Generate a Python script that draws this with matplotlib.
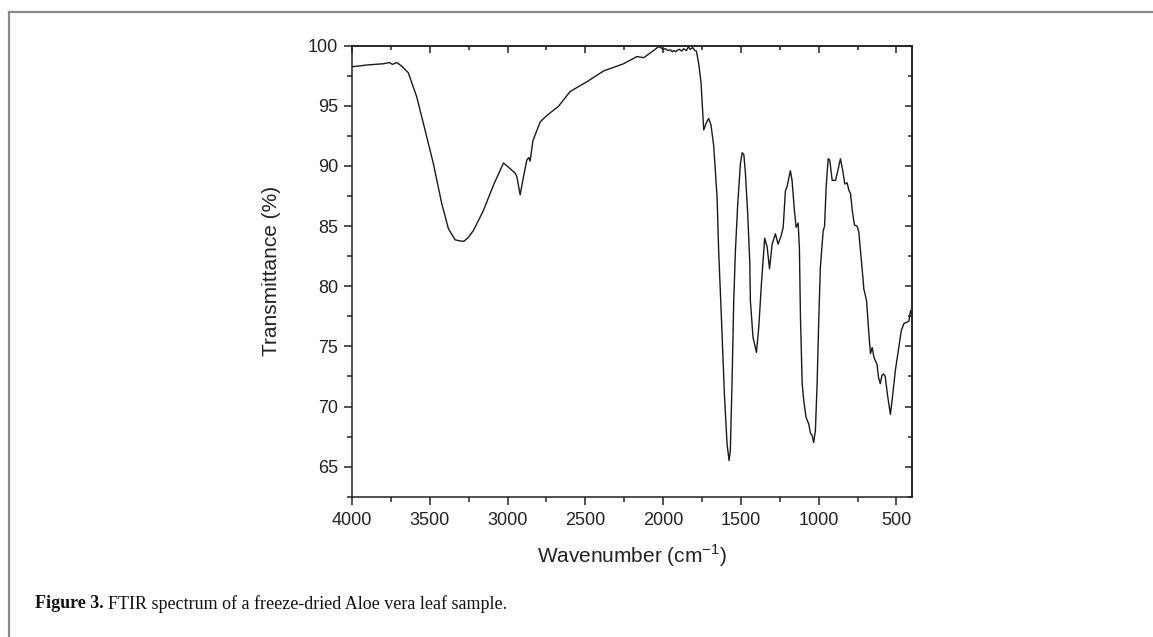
import matplotlib
matplotlib.use("Agg")
import matplotlib.pyplot as plt
from matplotlib.lines import Line2D
from matplotlib.ticker import MultipleLocator

# ---- data ----
wavenumber = [4000, 3900, 3798, 3760, 3740, 3712, 3680, 3638, 3584, 3530, 3477, 3423,
              3380, 3337, 3300, 3279, 3250, 3219, 3155, 3091, 3026, 2994, 2951, 2940,
              2919, 2902, 2876, 2863, 2855, 2837, 2790, 2747, 2672, 2597, 2490, 2383,
              2254, 2168, 2125, 2082, 2029, 2018, 1999, 1985, 1970, 1954, 1940, 1932,
              1920, 1910, 1895, 1880, 1868, 1850, 1838, 1825, 1810, 1796, 1786, 1771,
              1756, 1739, 1722, 1707, 1692, 1675, 1653, 1643,
              1627, 1606, 1589, 1576, 1568, 1557, 1546, 1535, 1520, 1503, 1492, 1481,
              1471, 1456, 1443, 1439, 1422, 1400, 1385, 1368, 1353, 1347, 1331, 1316,
              1299, 1278, 1261, 1241, 1228, 1214, 1203, 1182, 1171, 1156, 1145, 1132,
              1124, 1117, 1106, 1096, 1081, 1064, 1053, 1042, 1032, 1021, 1010, 999,
              989, 971, 962, 952, 939, 929, 913, 892, 877, 860, 845, 832, 817, 806,
              795, 784, 770, 753, 742, 727, 714, 710, 692, 677, 667, 656, 645, 625,
              615, 604, 593, 582, 572, 558, 539, 528, 507, 485, 469, 452, 435, 420,
              409, 401]
transmittance = [98.25, 98.4, 98.5, 98.6, 98.45, 98.6, 98.3, 97.75, 95.75, 92.97, 90.2, 86.87,
                 84.78, 83.86, 83.75, 83.75, 84.1, 84.64, 86.3, 88.4, 90.25, 89.9, 89.4, 89.1,
                 87.6, 88.8, 90.5, 90.7, 90.4, 92.1, 93.67, 94.2, 94.97, 96.2, 97.0, 97.9,
                 98.5, 99.1, 99.0, 99.4, 99.92, 99.86, 99.7, 99.75, 99.6, 99.65, 99.5, 99.6,
                 99.5, 99.6, 99.7, 99.55, 99.75, 99.6, 99.9, 99.7, 99.85, 99.6, 99.55, 98.5,
                 96.9, 93.0, 93.6, 93.95, 93.4, 91.7, 87.4, 82.98,
                 77.98, 71.0, 66.9, 65.5, 66.3, 71.9, 78.8, 83.0, 86.9, 90.2, 91.1, 90.95,
                 89.4, 86.0, 82.0, 78.8, 75.75, 74.5, 76.6, 80.2, 83.0, 84.0, 83.25, 81.45,
                 83.5, 84.36, 83.5, 84.2, 84.9, 87.9, 88.3, 89.6, 88.8, 86.3, 84.9, 85.25,
                 83.25, 77.4, 71.9, 70.5, 69.1, 68.55, 67.8, 67.6, 67.0, 68.0, 71.9, 77.4,
                 81.6, 84.6, 85.0, 88.25, 90.6, 90.5, 88.8, 88.8, 89.6, 90.6, 89.6, 88.5,
                 88.6, 87.98, 87.7, 86.3, 85.1, 85.0, 84.5, 82.4, 80.5, 79.8, 78.8, 76.0,
                 74.4, 74.9, 74.1, 73.5, 72.4, 71.9, 72.6, 72.7, 72.5, 71.0, 69.35, 70.5,
                 73.0, 74.9, 76.3, 76.9, 77.0, 77.1, 77.98, 77.6]

x_ticks = [4000, 3500, 3000, 2500, 2000, 1500, 1000, 500]
y_ticks = [65, 70, 75, 80, 85, 90, 95, 100]
x_label = "Wavenumber (cm$^{-1}$)"
y_label = "Transmittance (%)"
caption_bold = "Figure 3."
caption_rest = "FTIR spectrum of a freeze-dried Aloe vera leaf sample."

plt.rcParams['font.family'] = ['Liberation Sans', 'DejaVu Sans']
plt.rcParams['mathtext.fontset'] = 'custom'
plt.rcParams['mathtext.rm'] = 'Liberation Sans'

ink = '#222222'
fig = plt.figure(figsize=(11.53, 6.37), dpi=100)
ax = fig.add_axes([352 / 1153, 1 - 496.7 / 637, (912 - 352) / 1153, (496.7 - 45.7) / 637])

ax.plot(wavenumber, transmittance, color='#1a1a1a', lw=1.0)

ax.set_xlim(4000, 400)
ax.set_ylim(62.5, 100)
ax.set_xticks(x_ticks)
ax.set_yticks(y_ticks)
ax.xaxis.set_minor_locator(MultipleLocator(250))
ax.yaxis.set_minor_locator(MultipleLocator(2.5))

for s in ax.spines.values():
    s.set_linewidth(1.1)
    s.set_color(ink)
ax.tick_params(which='both', direction='out', width=1.1, color=ink,
               labelsize=13, labelcolor=ink, top=False, right=False)
ax.tick_params(which='major', length=6)
ax.tick_params(which='minor', length=3.5)
ax.tick_params(axis='x', pad=5)
ax.tick_params(axis='y', pad=4)

# top and right axes with inward ticks, no labels
secx = ax.secondary_xaxis('top')
secx.set_xticks(x_ticks)
secx.xaxis.set_minor_locator(MultipleLocator(250))
secx.tick_params(which='both', direction='in', width=1.1, color=ink, labeltop=False)
secx.tick_params(which='major', length=5)
secx.tick_params(which='minor', length=3)
secx.spines['top'].set_linewidth(1.1)
secx.spines['top'].set_color(ink)

secy = ax.secondary_yaxis('right')
secy.set_yticks(y_ticks)
secy.yaxis.set_minor_locator(MultipleLocator(2.5))
secy.tick_params(which='both', direction='in', width=1.1, color=ink, labelright=False)
secy.tick_params(which='major', length=5)
secy.tick_params(which='minor', length=3)
secy.spines['right'].set_linewidth(1.1)
secy.spines['right'].set_color(ink)

ax.set_xlabel(x_label, fontsize=15, color=ink, labelpad=10)
ax.set_ylabel(y_label, fontsize=15, color=ink, labelpad=19)

# figure frame lines (grey top and left border)
fig.add_artist(Line2D([8.7 / 1153, 1], [1 - 12 / 637, 1 - 12 / 637],
                      transform=fig.transFigure, color='#8a8a8a', lw=1.6))
fig.add_artist(Line2D([8.7 / 1153, 8.7 / 1153], [1 - 12 / 637, 0],
                      transform=fig.transFigure, color='#8a8a8a', lw=1.6))

# caption
t1 = fig.text(35 / 1153, 1 - 604 / 637, caption_bold, fontsize=13, fontweight='bold',
              family=['Liberation Serif', 'DejaVu Serif'], va='center', color='#111111')
ax.annotate(caption_rest, xy=(1, 0.5), xycoords=t1, xytext=(3, 0), textcoords='offset points',
            fontsize=13, family=['Liberation Serif', 'DejaVu Serif'], va='center',
            color='#111111', annotation_clip=False)

fig.savefig("out.png", dpi=100, facecolor='white')
